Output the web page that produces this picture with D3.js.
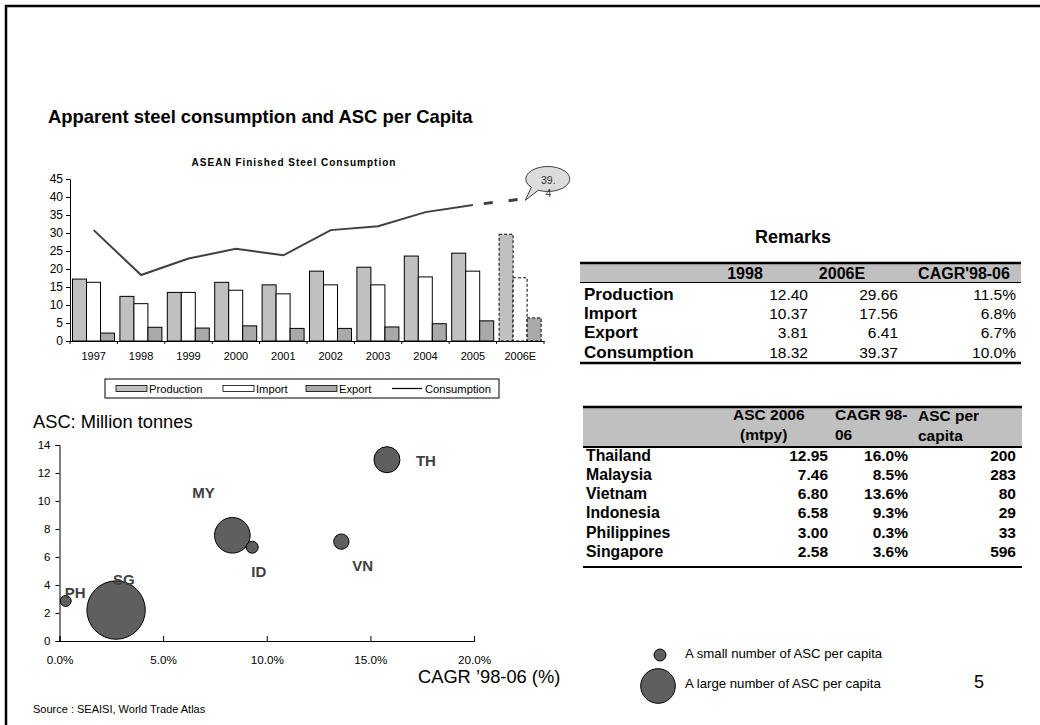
<!DOCTYPE html>
<html lang="en">
<head>
<meta charset="UTF-8">
<title>Apparent steel consumption and ASC per Capita</title>
<script src="https://d3js.org/d3.v7.min.js"></script>
<style>
  body { margin: 0; background: #fff; }
  svg text { font-family: "Liberation Sans", Arial, sans-serif; }
</style>
</head>
<body>
<div id="chart"></div>
<script>
// ---- top chart data (million tonnes) ----
var years = ["1997", "1998", "1999", "2000", "2001", "2002", "2003", "2004", "2005", "2006E"];
var production = [17.2, 12.4, 13.5, 16.3, 15.6, 19.4, 20.5, 23.6, 24.4, 29.66];
var imports = [16.3, 10.37, 13.5, 14.1, 13.1, 15.6, 15.6, 17.8, 19.4, 17.56];
var exports = [2.2, 3.81, 3.6, 4.2, 3.5, 3.5, 3.9, 4.8, 5.6, 6.41];
var consumption = [30.8, 18.32, 22.9, 25.6, 23.8, 30.8, 31.9, 35.8, 37.8, 39.37];
var yTicks = [0, 5, 10, 15, 20, 25, 30, 35, 40, 45];

// ---- remarks table ----
var remarkRows = ["Production", "Import", "Export", "Consumption"];
var remark1998 = ["12.40", "10.37", "3.81", "18.32"];
var remark2006 = ["29.66", "17.56", "6.41", "39.37"];
var remarkCagr = ["11.5%", "6.8%", "6.7%", "10.0%"];

// ---- country table ----
var countries = ["Thailand", "Malaysia", "Vietnam", "Indonesia", "Philippines", "Singapore"];
var asc2006 = ["12.95", "7.46", "6.80", "6.58", "3.00", "2.58"];
var cagr9806 = ["16.0%", "8.5%", "13.6%", "9.3%", "0.3%", "3.6%"];
var ascPerCapita = ["200", "283", "80", "29", "33", "596"];

// ---- bubble chart ----
var codes = ["TH", "MY", "VN", "ID", "PH", "SG"];
var bubbleCagr = [0.158, 0.0834, 0.136, 0.093, 0.003, 0.0273];
var bubbleAsc = [12.95, 7.55, 7.1, 6.7, 2.86, 2.21];
var bubbleSize = [169, 317, 59, 36, 30, 853];
var bubbleXTicks = [0, 0.05, 0.10, 0.15, 0.20];
var bubbleYTicks = [0, 2, 4, 6, 8, 10, 12, 14];

var W = 1040, H = 725;
var svg = d3.select("#chart").append("svg").attr("width", W).attr("height", H);

// slide frame
svg.append("path").attr("d", "M6," + H + "V6H" + W)
  .attr("fill", "none").attr("stroke", "#000").attr("stroke-width", 2.5);

svg.append("text").attr("x", 48).attr("y", 123)
  .attr("font-size", 18.4).attr("font-weight", "bold")
  .text("Apparent steel consumption and ASC per Capita");

// ================= top combo chart =================
var x0 = d3.scaleBand().domain(years).range([70, 544]);
var keys = ["production", "import", "export"];
var x1 = d3.scaleBand().domain(keys).range([2.5, 44.5]);
var y = d3.scaleLinear().domain([0, 45]).range([341, 179]);
var fills = { production: "#c0c0c0", "import": "#ffffff", "export": "#a9a9a9" };

var rows = years.map(function (yr, i) {
  return { year: yr, production: production[i], "import": imports[i], "export": exports[i], consumption: consumption[i] };
});

svg.append("text").attr("x", 294).attr("y", 166).attr("text-anchor", "middle")
  .attr("font-size", 10).attr("font-weight", "bold").attr("letter-spacing", 1)
  .text("ASEAN Finished Steel Consumption");

var groups = svg.append("g").selectAll("g").data(rows).enter().append("g")
  .attr("transform", function (d) { return "translate(" + x0(d.year) + ",0)"; });

groups.selectAll("rect")
  .data(function (d) { return keys.map(function (k) { return { key: k, value: d[k], est: d.year === "2006E" }; }); })
  .enter().append("rect")
  .attr("x", function (d) { return x1(d.key); })
  .attr("y", function (d) { return y(d.value); })
  .attr("width", x1.bandwidth())
  .attr("height", function (d) { return y(0) - y(d.value); })
  .attr("fill", function (d) { return fills[d.key]; })
  .attr("stroke", "#000").attr("stroke-width", 1)
  .attr("stroke-dasharray", function (d) { return d.est ? "3,2" : null; });

// y axis
var yAxis = svg.append("g").attr("transform", "translate(70,0)")
  .call(d3.axisLeft(y).tickValues(yTicks).tickSize(4).tickPadding(3));
yAxis.selectAll("text").attr("font-size", 12).attr("font-family", "Liberation Sans, Arial, sans-serif");

// x axis: ticks on category boundaries
var xAxis = svg.append("g").attr("transform", "translate(0,341)")
  .call(d3.axisBottom(x0).tickSize(0).tickPadding(11));
xAxis.selectAll("text").attr("font-size", 11).attr("font-family", "Liberation Sans, Arial, sans-serif");
xAxis.select(".domain").attr("stroke", "#000");
xAxis.selectAll("line.bound").data(years.concat(["end"])).enter().append("line")
  .attr("class", "bound")
  .attr("x1", function (d) { return d === "end" ? x0.range()[1] : x0(d); })
  .attr("x2", function (d) { return d === "end" ? x0.range()[1] : x0(d); })
  .attr("y1", 0).attr("y2", 3).attr("stroke", "#000");

// consumption line: solid for actuals, dashed to the estimate
var lineGen = d3.line()
  .x(function (d) { return x0(d.year) + x0.bandwidth() / 2; })
  .y(function (d) { return y(d.consumption); });
svg.append("path").datum(rows.slice(0, 9)).attr("d", lineGen)
  .attr("fill", "none").attr("stroke", "#404040").attr("stroke-width", 2);
svg.append("path").datum(rows.slice(8)).attr("d", lineGen)
  .attr("fill", "none").attr("stroke", "#404040").attr("stroke-width", 3)
  .attr("stroke-dasharray", "0,11,9,5");

// callout for estimate
var est = rows[9];
var cx = x0(est.year) + x0.bandwidth() / 2, cy = y(est.consumption);
var bx = cx + 24, by = cy - 20;
svg.append("path")
  .attr("d", "M" + (cx + 5) + "," + (cy + 1) +
    "L" + (bx - 13) + "," + (by + 8) +
    "A22,12.5 0 1 1 " + (bx - 6) + "," + (by + 11) + "Z")
  .attr("fill", "#dcdcdc").attr("stroke", "#404040").attr("stroke-width", 1);
svg.append("text").attr("x", bx + 4).attr("y", by + 5).attr("text-anchor", "middle")
  .attr("font-size", 10.5).attr("fill", "#333").text("39.");
svg.append("text").attr("x", bx + 4).attr("y", by + 18).attr("text-anchor", "middle")
  .attr("font-size", 10.5).attr("fill", "#333").text("4");

// legend
var lg = svg.append("g");
lg.append("rect").attr("x", 105).attr("y", 379).attr("width", 394).attr("height", 19)
  .attr("fill", "#fff").attr("stroke", "#000");
var legendItems = [
  { label: "Production", fill: fills.production, x: 116 },
  { label: "Import", fill: fills["import"], x: 223 },
  { label: "Export", fill: fills["export"], x: 306 },
  { label: "Consumption", fill: null, x: 392 }
];
legendItems.forEach(function (it) {
  if (it.fill) {
    lg.append("rect").attr("x", it.x).attr("y", 385.5).attr("width", 31).attr("height", 6)
      .attr("fill", it.fill).attr("stroke", "#000").attr("stroke-width", 0.8);
  } else {
    lg.append("line").attr("x1", it.x).attr("x2", it.x + 30).attr("y1", 388.5).attr("y2", 388.5)
      .attr("stroke", "#000").attr("stroke-width", 1.2);
  }
  lg.append("text").attr("x", it.x + 33).attr("y", 392.5).attr("font-size", 11.2).text(it.label);
});

// ================= remarks table =================
var mono = "DejaVu Sans, Verdana, sans-serif";
svg.append("text").attr("x", 793).attr("y", 243).attr("text-anchor", "middle")
  .attr("font-size", 18).attr("font-weight", "bold").text("Remarks");
svg.append("rect").attr("x", 580).attr("y", 263).attr("width", 441).attr("height", 19).attr("fill", "#c0c0c0");
svg.append("line").attr("x1", 580).attr("x2", 1021).attr("y1", 263).attr("y2", 263).attr("stroke", "#000").attr("stroke-width", 2.5);
svg.append("line").attr("x1", 580).attr("x2", 1021).attr("y1", 282.5).attr("y2", 282.5).attr("stroke", "#000").attr("stroke-width", 1);
svg.append("line").attr("x1", 580).attr("x2", 1021).attr("y1", 363).attr("y2", 363).attr("stroke", "#000").attr("stroke-width", 2.5);
[["1998", 745], ["2006E", 842], ["CAGR'98-06", 964]].forEach(function (h) {
  svg.append("text").attr("x", h[1]).attr("y", 279).attr("text-anchor", "middle")
    .attr("font-size", 16).attr("font-weight", "bold").text(h[0]);
});
remarkRows.forEach(function (r, i) {
  var yy = 300 + i * 19.2;
  svg.append("text").attr("x", 584).attr("y", yy).attr("font-size", 17).attr("font-weight", "bold").text(r);
  [[remark1998[i], 808], [remark2006[i], 898], [remarkCagr[i], 1016]].forEach(function (c) {
    svg.append("text").attr("x", c[1]).attr("y", yy).attr("text-anchor", "end")
      .attr("font-size", 15.5).attr("font-family", mono).text(c[0]);
  });
});

// ================= country table =================
svg.append("rect").attr("x", 583).attr("y", 407).attr("width", 439).attr("height", 40).attr("fill", "#c0c0c0");
svg.append("line").attr("x1", 583).attr("x2", 1022).attr("y1", 407).attr("y2", 407).attr("stroke", "#000").attr("stroke-width", 2.5);
svg.append("line").attr("x1", 583).attr("x2", 1022).attr("y1", 447).attr("y2", 447).attr("stroke", "#000").attr("stroke-width", 2);
svg.append("line").attr("x1", 583).attr("x2", 1022).attr("y1", 567).attr("y2", 567).attr("stroke", "#000").attr("stroke-width", 2);
[["ASC 2006", 733, 420], ["(mtpy)", 740, 440], ["CAGR 98-", 835, 420], ["06", 835, 440], ["ASC per", 918, 421], ["capita", 918, 441]].forEach(function (h) {
  svg.append("text").attr("x", h[1]).attr("y", h[2]).attr("font-size", 15.5).attr("font-weight", "bold").text(h[0]);
});
countries.forEach(function (c, i) {
  var yy = 460.7 + i * 19.2;
  svg.append("text").attr("x", 586).attr("y", yy).attr("font-size", 15.8).attr("font-weight", "bold").text(c);
  [[asc2006[i], 828], [cagr9806[i], 908], [ascPerCapita[i], 1016]].forEach(function (v) {
    svg.append("text").attr("x", v[1]).attr("y", yy).attr("text-anchor", "end")
      .attr("font-size", 15.5).attr("font-weight", "bold").text(v[0]);
  });
});

// ================= bubble chart =================
var bx0 = d3.scaleLinear().domain([0, 0.2]).range([59.5, 474]);
var by0 = d3.scaleLinear().domain([0, 14]).range([641, 445]);
var br = d3.scaleSqrt().domain([0, d3.max(bubbleSize)]).range([0, 29.2]);

svg.append("text").attr("x", 33).attr("y", 428).attr("font-size", 18.3).text("ASC: Million tonnes");

var bya = svg.append("g").attr("transform", "translate(59.5,0)")
  .call(d3.axisLeft(by0).tickValues(bubbleYTicks).tickSize(4).tickPadding(5));
bya.selectAll("text").attr("font-size", 11.5).attr("font-family", mono);
var bxa = svg.append("g").attr("transform", "translate(0,641)")
  .call(d3.axisBottom(bx0).tickValues(bubbleXTicks).tickSize(-5).tickPadding(15).tickFormat(d3.format(".1%")));
bxa.selectAll("text").attr("font-size", 11.7).attr("font-family", mono);

var bubbles = codes.map(function (c, i) {
  return { code: c, x: bubbleCagr[i], y: bubbleAsc[i], s: bubbleSize[i] };
});
svg.append("g").selectAll("circle").data(bubbles).enter().append("circle")
  .attr("cx", function (d) { return bx0(d.x); })
  .attr("cy", function (d) { return by0(d.y); })
  .attr("r", function (d) { return br(d.s); })
  .attr("fill", "#5f5f5f").attr("stroke", "#000").attr("stroke-width", 1);

var labelOffsets = { TH: [29, 6], MY: [-40, -37], VN: [11, 29], ID: [-1, 30], PH: [-1, -3], SG: [-3, -25] };
svg.append("g").selectAll("text").data(bubbles).enter().append("text")
  .attr("x", function (d) { return bx0(d.x) + labelOffsets[d.code][0]; })
  .attr("y", function (d) { return by0(d.y) + labelOffsets[d.code][1]; })
  .attr("font-size", 15).attr("font-weight", "bold").attr("fill", "#404040")
  .text(function (d) { return d.code; });

svg.append("text").attr("x", 418).attr("y", 683).attr("font-size", 18.3).text("CAGR \u201998-06 (%)");

// bubble size legend
svg.append("circle").attr("cx", 660).attr("cy", 655).attr("r", br(bubbleSize[4]) + 0.5)
  .attr("fill", "#5f5f5f").attr("stroke", "#000");
svg.append("circle").attr("cx", 658).attr("cy", 686).attr("r", br(bubbleSize[1]) - 0.5)
  .attr("fill", "#5f5f5f").attr("stroke", "#000");
svg.append("text").attr("x", 685).attr("y", 658).attr("font-size", 13.2).text("A small number of ASC per capita");
svg.append("text").attr("x", 685).attr("y", 688).attr("font-size", 13.2).text("A large number of ASC per capita");
svg.append("text").attr("x", 974).attr("y", 688).attr("font-size", 18).text("5");

svg.append("text").attr("x", 33).attr("y", 713).attr("font-size", 11).text("Source : SEAISI, World Trade Atlas");
</script>
</body>
</html>
